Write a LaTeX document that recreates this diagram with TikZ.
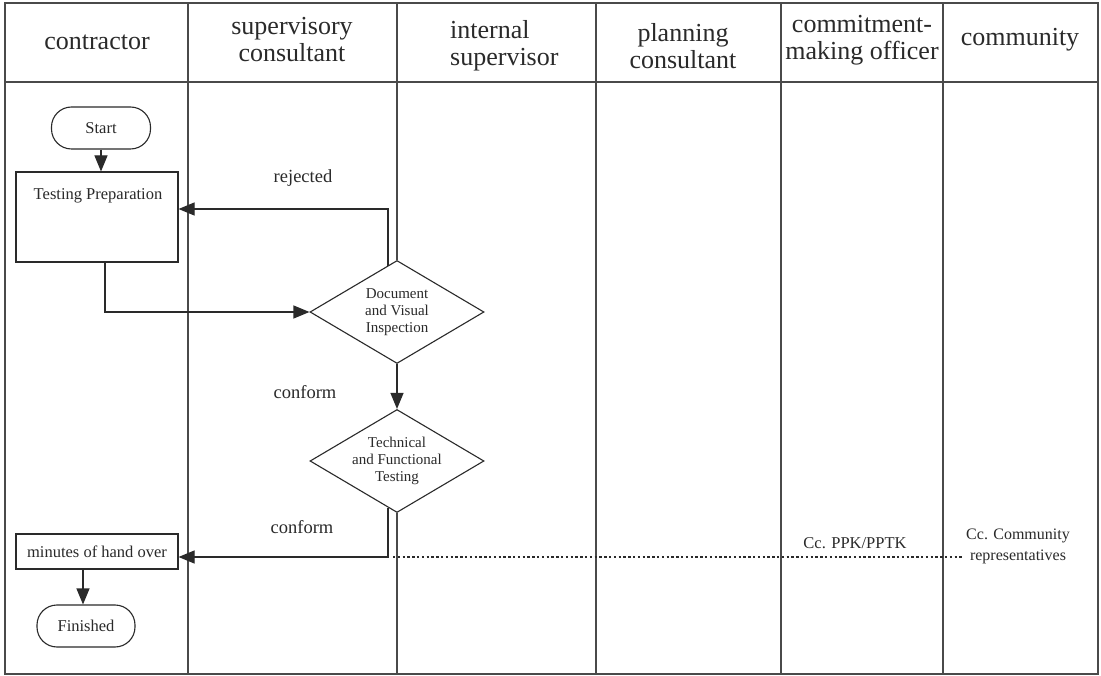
\documentclass[tikz,border=0pt]{standalone}
\usepackage{fontspec}
\setmainfont{Liberation Serif}
\usetikzlibrary{arrows.meta,shapes.geometric,calc}
\definecolor{ink}{HTML}{2A2A2A}
\definecolor{rule}{HTML}{4A4A4A}
\begin{document}
\begin{tikzpicture}[x=1pt,y=-1pt,
  lane/.style={draw=rule,line width=1.3pt},
  flow/.style={draw=ink,line width=1.1pt},
  arr/.style={flow,-{Triangle[length=16pt,width=13pt]}},
  head/.style={font=\fontsize{26}{27}\selectfont,align=center,inner sep=0pt,text=ink},
  body/.style={font=\fontsize{16.5}{19}\selectfont,inner sep=0pt,text=ink},
  tag/.style={font=\fontsize{18.5}{20}\selectfont,inner sep=0pt,text=ink},
  dtext/.style={font=\fontsize{15}{16.7}\selectfont,align=center,inner sep=0pt,text=ink},
  terminal/.style={flow,rectangle,rounded corners=20pt,minimum width=99pt,minimum height=42pt,inner sep=0pt},
  stepbox/.style={flow,rectangle,inner sep=0pt},
  decision/.style={flow,diamond,minimum width=174pt,minimum height=103pt,inner sep=0pt}
]
\useasboundingbox (0,0) rectangle (1101,676);
\fill[white] (0,0) rectangle (1101,676);

% swimlane frame
\draw[lane] (5,3) rectangle (1098,674);
\draw[lane] (5,82) -- (1098,82);
\foreach \x in {188,596,781,943} \draw[lane] (\x,3) -- (\x,674);

% lane headings
\node[head] (hc) at (97,42) {contractor};
\node[head] (hs) at (292,40) {supervisory\\consultant};
\node[head,anchor=west,align=left] (hi) at (450,46) {internal\\supervisor};
\node[head] (hp) at (683,46) {planning\\consultant};
\node[head] (ho) at (862,40) {commitment-\\making officer};
\node[head] (hm) at (1020,40) {community};

% flow nodes
\node[terminal] (start) at (101,128) {};
\node[body] at (start) {Start};
\node[stepbox,minimum width=162pt,minimum height=90pt] (tp) at (97,217) {};
\node[body] (tpt) at (98,196) {Testing Preparation};
\node[decision] (d1) at (397,312) {};
\node[dtext] at (d1) {Document\\and Visual\\Inspection};
\node[decision] (d2) at (397,461) {};
\node[dtext] at (d2) {Technical\\and Functional\\Testing};
\node[stepbox,minimum width=162pt,minimum height=35pt] (mh) at (97,551.5) {};
\node[body] at (mh) {minutes of hand over};
\node[terminal,minimum width=98pt] (fin) at (86,626) {};
\node[body] at (fin) {Finished};

% internal supervisor lane line, broken by the decisions
\draw[lane] (397,3) -- (d1.north);
\draw[lane] (d2.south) -- (397,674);

% connectors
\draw[arr] (start.south) -- (start.south |- tp.north);
\coordinate (r0) at (388,266);
\draw[arr] (r0) |- ([yshift=8pt]tp.east);
\draw[arr] ([xshift=8pt]tp.south) |- (d1.west);
\draw[arr] (d1.south) -- (d2.north);
\coordinate (c0) at (388,508);
\draw[arr] (c0) |- ([yshift=-5.5pt]mh.east);
\draw[arr] ([xshift=-3pt]fin.north |- mh.south) -- ([xshift=-3pt]fin.north);

% copy distribution line
\coordinate (cc0) at (393,557);
\coordinate (cc1) at (963,557);
\draw[draw=ink,line width=1.2pt,dash pattern=on 2.4pt off 2.4pt] (cc0) -- (cc1);

% labels
\node[tag] (lr) at (303,178) {rejected};
\node[tag] (lc1) at (305,392) {conform};
\node[tag] (lc2) at (302,527) {conform};
\node[body] (lppk) at (855,543) {Cc. PPK/PPTK};
\node[body,font=\fontsize{16}{21}\selectfont,align=center] (lcom) at (1018,546) {Cc. Community\\representatives};
\end{tikzpicture}
\end{document}
